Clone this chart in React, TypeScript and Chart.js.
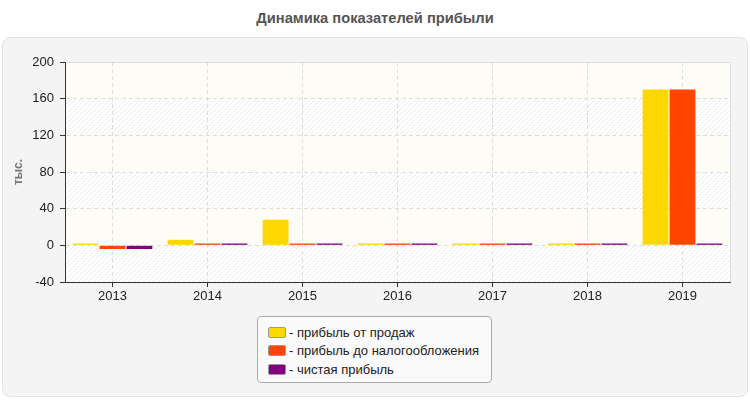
import { useEffect, useRef } from "react"
import { Chart, registerables } from "chart.js"

Chart.register(...registerables)

const years = ["2013", "2014", "2015", "2016", "2017", "2018", "2019"]
const salesProfit = [2, 6, 28, 2, 2, 2, 170]
const preTaxProfit = [-4, 2, 2, 2, 2, 2, 170]
const netProfit = [-4, 2, 2, 2, 2, 2, 2]
const yTicks = [-40, 0, 40, 80, 120, 160, 200]

const seriesNames = ["прибыль от продаж", "прибыль до налогообложения", "чистая прибыль"]
const seriesColors = ["#ffd700", "#ff4500", "#800080"]

const font = "Arial, 'Liberation Sans', sans-serif"

// striped plot background: hatch everywhere, cream on every other band
const plotBackground = {
  id: "plotBackground",
  beforeDraw(chart: Chart) {
    const { ctx, chartArea } = chart
    const y = chart.scales.y
    const pc = document.createElement("canvas")
    pc.width = 5
    pc.height = 5
    const p = pc.getContext("2d")!
    p.fillStyle = "#ffffff"
    p.fillRect(0, 0, 5, 5)
    p.strokeStyle = "#ebebeb"
    p.lineWidth = 1
    p.beginPath()
    p.moveTo(-1, 6)
    p.lineTo(6, -1)
    p.stroke()
    ctx.save()
    ctx.fillStyle = ctx.createPattern(pc, "repeat")!
    ctx.fillRect(chartArea.left, chartArea.top, chartArea.width, chartArea.height)
    ctx.fillStyle = "#fdfdf6"
    for (let i = 1; i < yTicks.length - 1; i += 2) {
      const top = y.getPixelForValue(yTicks[i + 1])
      const bottom = y.getPixelForValue(yTicks[i])
      ctx.fillRect(chartArea.left, top, chartArea.width, bottom - top)
    }
    ctx.strokeStyle = "#dddddd"
    ctx.lineWidth = 1
    ctx.beginPath()
    ctx.moveTo(chartArea.left, chartArea.top + 0.5)
    ctx.lineTo(chartArea.right + 0.5, chartArea.top + 0.5)
    ctx.lineTo(chartArea.right + 0.5, chartArea.bottom)
    ctx.stroke()
    ctx.restore()
  },
}

export default function App() {
  const chartRef = useRef<HTMLCanvasElement>(null)
  const chartInstance = useRef<Chart | null>(null)

  useEffect(() => {
    if (!chartRef.current) return
    if (chartInstance.current) chartInstance.current.destroy()

    const values = [salesProfit, preTaxProfit, netProfit]
    const ctx = chartRef.current.getContext("2d")
    if (!ctx) return

    chartInstance.current = new Chart(ctx, {
      type: "bar",
      data: {
        labels: years,
        datasets: values.map((data, i) => ({
          label: seriesNames[i],
          data,
          backgroundColor: seriesColors[i],
          borderWidth: 0,
          barPercentage: 0.96,
          categoryPercentage: 0.85,
        })),
      },
      options: {
        responsive: false,
        animation: false,
        layout: { padding: { left: 7, top: 62, right: 20, bottom: 88 } },
        plugins: {
          legend: { display: false },
          title: { display: false },
          tooltip: { enabled: false },
        },
        scales: {
          x: {
            grid: {
              offset: false,
              color: "#dddddd",
              tickColor: "#333333",
              tickLength: 5,
              tickBorderDash: [],
            },
            border: { color: "#333333", dash: [4, 3] },
            ticks: { color: "#222222", padding: 2, font: { family: font, size: 13 } },
            afterFit: (scale) => {
              scale.height = 30
            },
          },
          y: {
            min: -40,
            max: 200,
            afterBuildTicks: (scale) => {
              scale.ticks = yTicks.map((value) => ({ value }))
            },
            grid: {
              color: "#dddddd",
              tickColor: "#333333",
              tickLength: 5,
              tickBorderDash: [],
            },
            border: { color: "#333333", dash: [4, 3] },
            ticks: { color: "#222222", padding: 6, font: { family: font, size: 13 } },
            title: {
              display: true,
              text: "тыс.",
              color: "#777777",
              font: { family: font, size: 12, weight: "bold" },
            },
            afterFit: (scale) => {
              scale.width = 58
            },
          },
        },
      },
      plugins: [plotBackground],
    })

    return () => {
      if (chartInstance.current) chartInstance.current.destroy()
    }
  }, [])

  return (
    <div style={{ position: "absolute", left: 0, top: 0, width: 750, height: 400, background: "#fff", fontFamily: font }}>
      <div
        style={{
          position: "absolute",
          left: 0,
          top: 10,
          width: 750,
          textAlign: "center",
          fontSize: 14.7,
          fontWeight: "bold",
          color: "#555555",
        }}
      >
        Динамика показателей прибыли
      </div>
      <div
        style={{
          position: "absolute",
          left: 2,
          top: 37,
          width: 744,
          height: 358,
          background: "#f4f4f4",
          border: "1px solid #e2e2e2",
          borderRadius: 8,
        }}
      />
      <canvas ref={chartRef} width={750} height={400} style={{ position: "absolute", left: 0, top: 0 }} />
      <div
        style={{
          position: "absolute",
          left: 257,
          top: 316,
          width: 235,
          height: 67,
          background: "#fafafa",
          border: "1px solid #aaaaaa",
          borderRadius: 4,
          fontSize: 13,
          color: "#222222",
          paddingTop: 6,
          boxSizing: "border-box",
        }}
      >
        {seriesNames.map((name, i) => (
          <div key={name} style={{ display: "flex", alignItems: "center", height: 18.5, paddingLeft: 10 }}>
            <span
              style={{
                display: "inline-block",
                width: 16,
                height: 9,
                background: seriesColors[i],
                border: "1px solid #999999",
                borderRadius: 2,
                marginRight: 3,
              }}
            />
            - {name}
          </div>
        ))}
      </div>
    </div>
  )
}
